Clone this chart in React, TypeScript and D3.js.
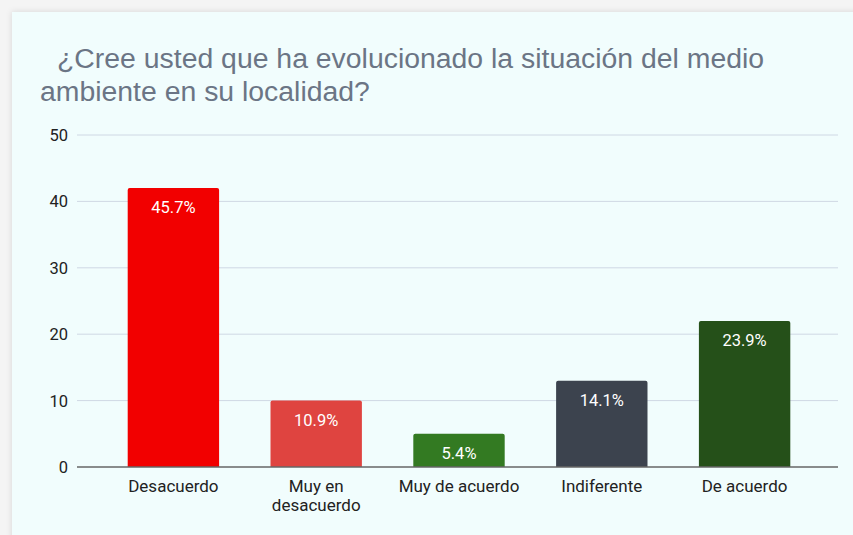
import React from "react";
import * as d3 from "d3";

const categories = ["Desacuerdo", "Muy en desacuerdo", "Muy de acuerdo", "Indiferente", "De acuerdo"];
const categoryLines = [["Desacuerdo"], ["Muy en", "desacuerdo"], ["Muy de acuerdo"], ["Indiferente"], ["De acuerdo"]];
const values = [42, 10, 5, 13, 22];
const barColors = ["#f20000", "#df4440", "#337a22", "#3c434e", "#255019"];
const yTicks = [0, 10, 20, 30, 40, 50];
const titleLines = ["¿Cree usted que ha evolucionado la situación del medio", "ambiente en su localidad?"];

const W = 853, H = 535;

export default function App() {
  const total = d3.sum(values);
  const x = d3.scaleBand<string>().domain(categories).range([102, 816]).paddingInner(0.36).paddingOuter(0.18);
  const y = d3.scaleLinear().domain([0, 50]).range([467, 135]);
  const r = 2;
  const barPath = (x0: number, y0: number, w: number, h: number) => {
    const p = d3.path();
    p.moveTo(x0, y0 + h);
    p.lineTo(x0, y0 + r);
    p.arcTo(x0, y0, x0 + r, y0, r);
    p.lineTo(x0 + w - r, y0);
    p.arcTo(x0 + w, y0, x0 + w, y0 + r, r);
    p.lineTo(x0 + w, y0 + h);
    p.closePath();
    return p.toString();
  };
  return (
    <svg width={W} height={H} style={{ position: "absolute", left: 0, top: 0 }}>
      <defs>
        <filter id="sh" x="-5%" y="-5%" width="110%" height="110%">
          <feDropShadow dx="0" dy="0" stdDeviation="3" floodColor="#000" floodOpacity="0.12" />
        </filter>
      </defs>
      <rect x={0} y={0} width={W} height={H} fill="#f4f4f4" />
      <rect x={12} y={12} width={W} height={H} fill="#f1fdfd" filter="url(#sh)" />
      <g fontFamily="'Liberation Sans', Arial, sans-serif" fontSize={28.4} fill="#6b7585">
        <text x={57} y={68}>{titleLines[0]}</text>
        <text x={40} y={101}>{titleLines[1]}</text>
      </g>
      {yTicks.map((t) => (
        <g key={t}>
          {t !== 0 && <line x1={77} x2={838} y1={y(t)} y2={y(t)} stroke="#cfd8e4" strokeWidth={1} />}
          <text x={68} y={y(t) + 6} textAnchor="end" fontFamily="Roboto, sans-serif" fontSize={16.5} fill="#222">{t}</text>
        </g>
      ))}
      {categories.map((c, i) => {
        const bx = x(c)!;
        const bw = x.bandwidth();
        const by = y(values[i]);
        return (
          <g key={c}>
            <path d={barPath(bx, by, bw, y(0) - by)} fill={barColors[i]} />
            <text x={bx + bw / 2} y={by + 25} textAnchor="middle" fontFamily="Roboto, sans-serif" fontSize={16.5} fill="#ffffff">
              {((values[i] / total) * 100).toFixed(1) + "%"}
            </text>
            {categoryLines[i].map((ln, j) => (
              <text key={j} x={bx + bw / 2} y={492 + j * 19} textAnchor="middle" fontFamily="Roboto, sans-serif" fontSize={17} fill="#222">{ln}</text>
            ))}
          </g>
        );
      })}
      <line x1={77} x2={838} y1={y(0)} y2={y(0)} stroke="#666" strokeWidth={1.5} />
    </svg>
  );
}
